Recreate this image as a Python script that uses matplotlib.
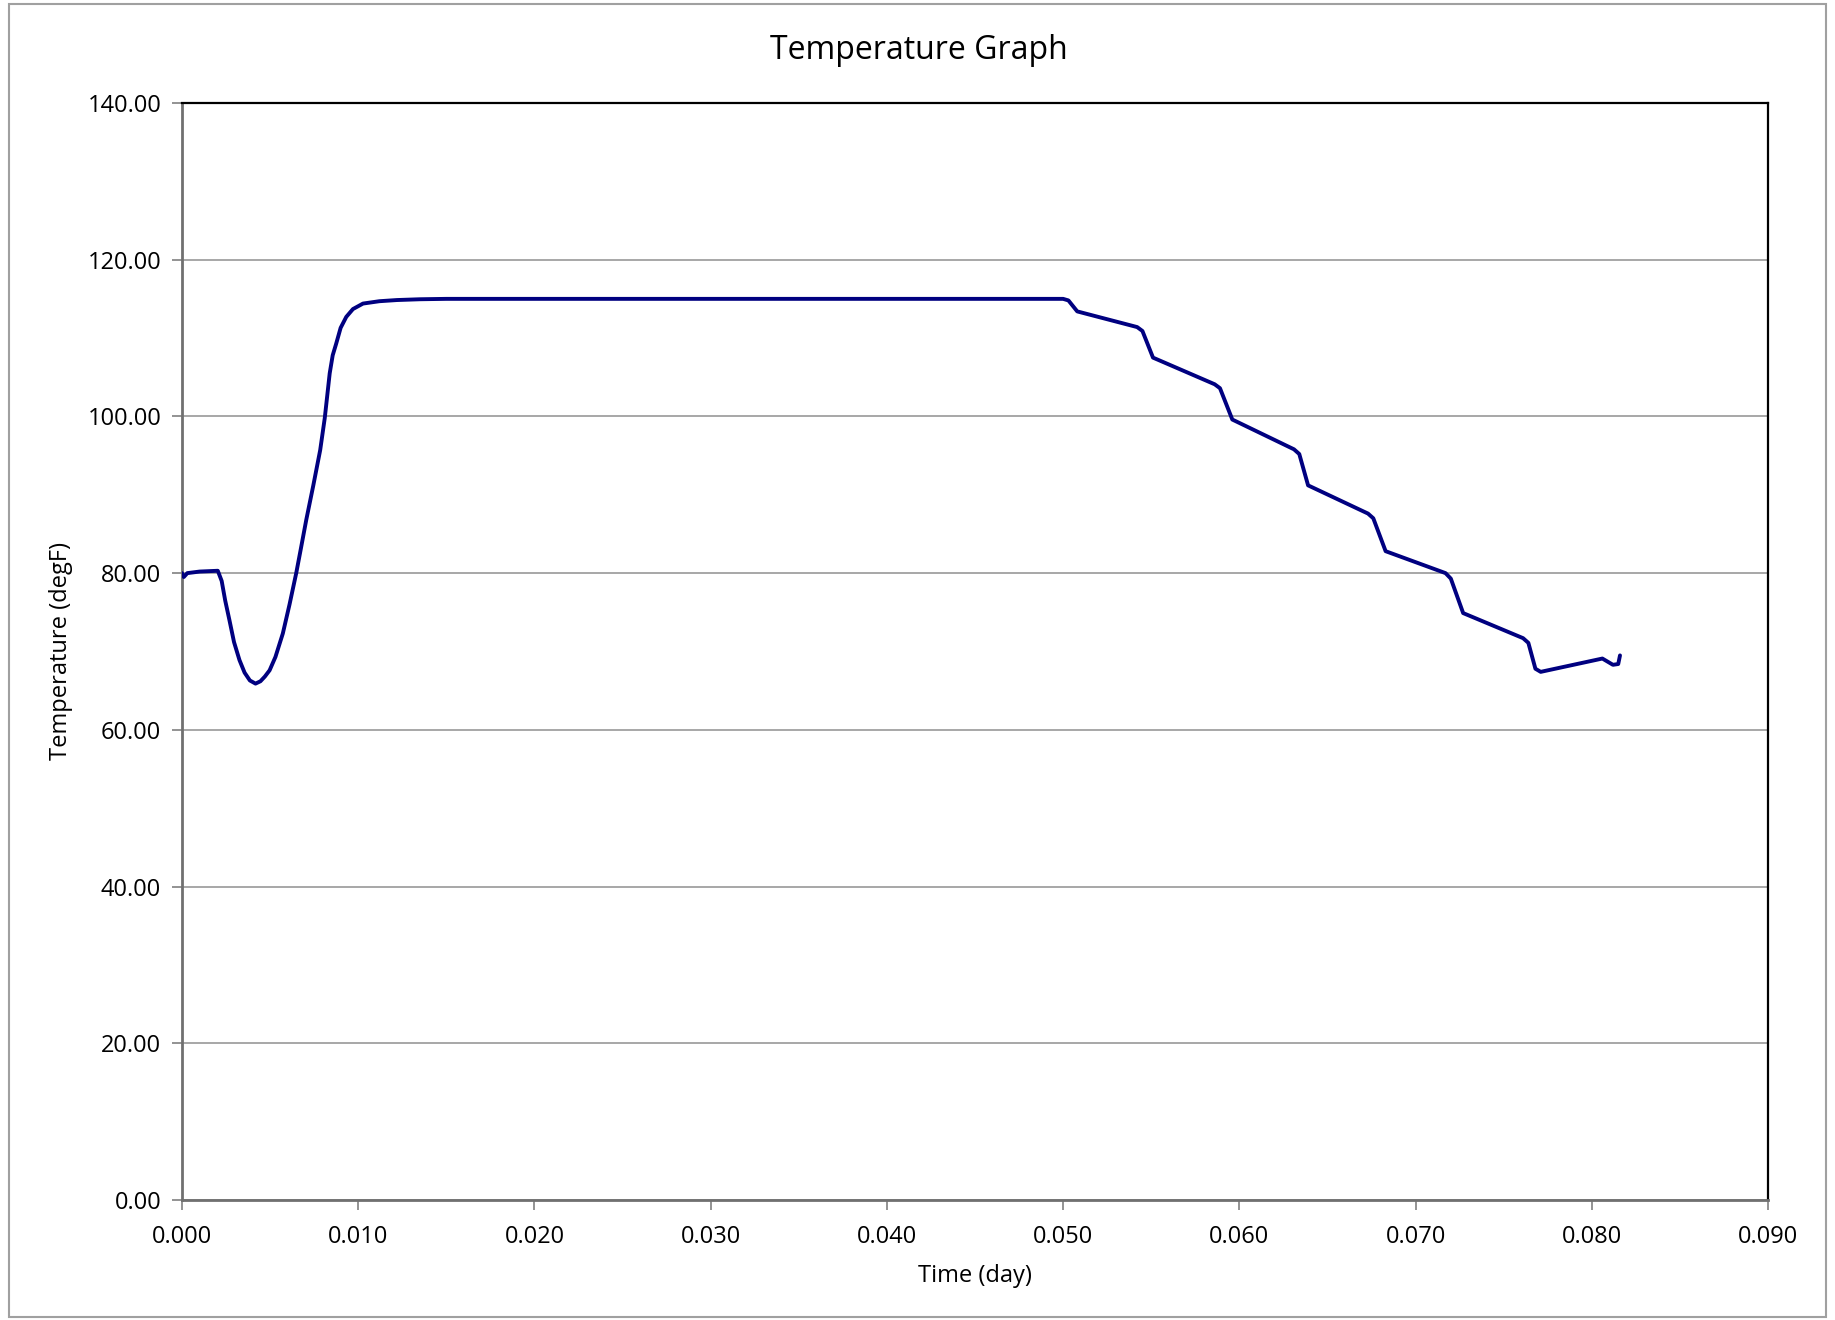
import matplotlib
matplotlib.use('Agg')
import matplotlib.pyplot as plt
from matplotlib.patches import Rectangle
from matplotlib.ticker import FormatStrFormatter

plt.rcParams['font.family'] = ['Open Sans', 'DejaVu Sans']

# time (day) and temperature (degF)
time_day = [0.0000, 0.0001, 0.0003, 0.0010, 0.00203, 0.00225, 0.00245, 0.00269, 0.00295,
            0.00326, 0.00355, 0.00385, 0.00417, 0.00445, 0.00470, 0.00497, 0.00530,
            0.00572, 0.00610, 0.00648, 0.00675, 0.00705, 0.00745, 0.00784, 0.00810,
            0.00838, 0.00855, 0.00875, 0.00900, 0.00932, 0.00970, 0.01027, 0.0112,
            0.0122, 0.0135, 0.0150, 0.0200, 0.0300, 0.0400, 0.0500, 0.0503, 0.0508,
            0.0542, 0.0545, 0.0551, 0.0586, 0.0589, 0.0596, 0.0631, 0.0634, 0.0639,
            0.0673, 0.0676, 0.0683, 0.0717, 0.0720, 0.0727, 0.0761, 0.0764, 0.0768,
            0.0771, 0.0806, 0.0809, 0.0812, 0.0815, 0.0816]
temp_degf = [80.0, 79.5, 80.0, 80.2, 80.3, 79.0, 76.5, 74.0, 71.2,
             68.9, 67.3, 66.3, 65.9, 66.2, 66.8, 67.6, 69.3,
             72.3, 76.0, 80.0, 83.2, 86.8, 91.2, 95.7, 99.8,
             105.5, 107.8, 109.3, 111.3, 112.7, 113.7, 114.4, 114.7,
             114.85, 114.95, 115.0, 115.0, 115.0, 115.0, 115.0, 114.8, 113.4,
             111.4, 110.9, 107.5, 104.1, 103.6, 99.6, 95.8, 95.2, 91.2,
             87.6, 87.0, 82.8, 80.0, 79.3, 74.9, 71.7, 71.1, 67.8,
             67.4, 69.1, 68.7, 68.3, 68.4, 69.5]

x_ticks = [0.000, 0.010, 0.020, 0.030, 0.040, 0.050, 0.060, 0.070, 0.080, 0.090]
y_ticks = [0, 20, 40, 60, 80, 100, 120, 140]

fig = plt.figure(figsize=(18.35, 13.2), dpi=100)
ax = fig.add_axes([0.0992, 0.0909, 0.8643, 0.8311])

ax.plot(time_day, temp_degf, color='#000080', lw=2.8, solid_joinstyle='round',
        solid_capstyle='round', zorder=3)

ax.set_xlim(0, 0.09)
ax.set_ylim(0, 140)
ax.set_xticks(x_ticks)
ax.set_yticks(y_ticks)
ax.xaxis.set_major_formatter(FormatStrFormatter('%.3f'))
ax.yaxis.set_major_formatter(FormatStrFormatter('%.2f'))
ax.tick_params(axis='both', direction='out', length=7, width=1.2, color='#808080',
               labelsize=17)
ax.tick_params(axis='x', pad=11)
ax.tick_params(axis='y', pad=8)
ax.yaxis.grid(True, color='#a0a0a0', lw=1.3)
ax.set_axisbelow(True)

ax.spines['left'].set_color('#707070')
ax.spines['bottom'].set_color('#707070')
ax.spines['left'].set_linewidth(2)
ax.spines['bottom'].set_linewidth(2)
ax.spines['top'].set_color('black')
ax.spines['right'].set_color('black')
ax.spines['top'].set_linewidth(1.6)
ax.spines['right'].set_linewidth(1.6)

ax.set_xlabel('Time (day)', fontsize=17, labelpad=11)
ax.set_ylabel('Temperature (degF)', fontsize=17, labelpad=10)
fig.text(0.501, 0.962, 'Temperature Graph', ha='center', va='center', fontsize=23)

# outer chart border
fig.patches.append(Rectangle((0.005, 0.002), 0.990, 0.995, transform=fig.transFigure,
                             fill=False, edgecolor='#a0a0a0', lw=1.5))

fig.savefig('out.png', dpi=100)
